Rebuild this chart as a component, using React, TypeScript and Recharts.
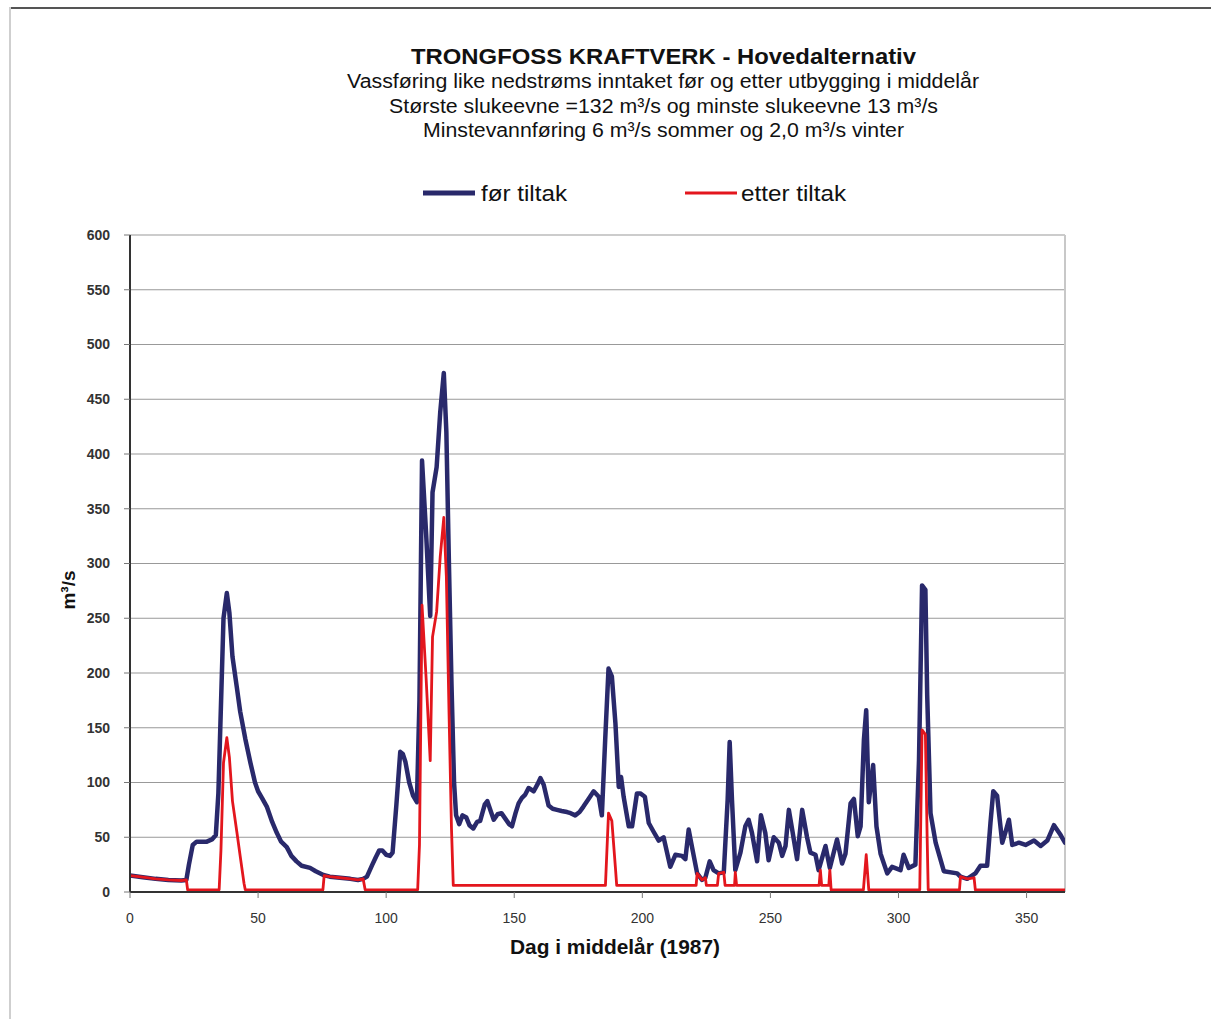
import { LineChart, Line, XAxis, YAxis, CartesianGrid, ReferenceLine } from "recharts";

// før tiltak (blå)
const forDays = [
  0, 5, 10, 15, 20, 22, 23, 24.5, 26, 30, 32, 33.5, 34.5, 35.5, 36.5, 37.8, 38.8, 40, 41.7, 43,
  45, 47, 48.8, 50, 51.5, 53.4, 55.5, 57.3, 59, 61.2, 63, 65, 67, 70.3, 72.5, 75.5, 78, 82, 86, 89,
  91, 92.5, 94.6, 96, 97.3, 98.5, 100, 101.5, 102.5, 104, 105.5, 106.5, 107.5, 109, 110.5, 112, 113, 114, 115.6, 117.2,
  118.1, 119.7, 121.1, 122.5, 123.5, 124.5, 125.5, 126.5, 127.3, 128.5, 129.8, 131.3, 132.5, 134, 135.5, 136.7, 138.5, 139.5, 140.8, 142,
  143.5, 145, 146.5, 148, 149.1, 150.5, 151.7, 153, 154.3, 155.6, 157.6, 159, 160.2, 161.5, 162.5, 163.4, 165, 166.7, 168.5, 170.6,
  172, 173.8, 175.5, 177, 179, 181, 183, 184.2, 185.5, 186.8, 188.1, 189.5, 190.8, 191.7, 192.7, 194.7, 196, 197.9, 199.2, 201,
  202.5, 204.4, 206.4, 208.3, 210.9, 212.9, 215.5, 216.8, 218.1, 219.4, 221.4, 223.3, 224.6, 226.3, 227.8, 229.8, 231.8, 233.3, 234.1, 235,
  236.3, 238.3, 240.2, 241.5, 242.8, 244.8, 246.3, 248, 249.3, 251.3, 253.3, 254.6, 255.9, 257.2, 258.5, 260.4, 262.4, 264.3, 265.6, 267.6,
  268.8, 271.5, 273.2, 276, 278, 279.3, 281.3, 282.6, 284.1, 285.2, 286.5, 287.4, 288.4, 290.1, 291.4, 293, 295.6, 297.5, 300.8, 302,
  304, 306.6, 308, 309.2, 310.5, 311.2, 312.5, 314.5, 317.7, 322.9, 324.2, 326.8, 330, 332, 334.6, 335.9, 337, 338.5, 340.5, 341.8,
  343.1, 344.4, 347, 349.6, 352.9, 355.5, 358.1, 360.7, 363.3, 365,
];
const forFlow = [
  15, 13.5, 12, 11, 10.5, 11, 25, 43, 46, 46, 48, 52, 90, 170, 250, 273, 255, 215, 187, 165,
  140, 118, 100, 92, 86, 78, 64, 54, 46, 41, 33, 28, 24, 22, 19, 15.5, 14, 13, 12, 11,
  12, 14, 25, 32, 38, 38, 34, 33, 36, 80, 128, 126, 119, 100, 88, 82, 175, 394, 327, 252,
  365, 388, 438, 474, 420, 300, 190, 100, 70, 62, 70, 68, 61, 58, 64, 65, 80, 83, 74, 66,
  71, 72, 67, 62, 60, 72, 81, 86, 89, 95, 92, 98, 104, 98, 88, 79, 76, 75, 74, 73,
  72, 70, 73, 78, 85, 92, 87, 70, 139, 204, 197, 154, 96, 105, 87, 60, 60, 90, 90, 87,
  63, 55, 47, 50, 23, 34, 33, 30, 57, 41, 17, 11, 13, 28, 20, 17, 18, 84, 137, 84,
  20, 36, 60, 66, 54, 28, 70, 54, 29, 50, 45, 33, 42, 75, 57, 30, 75, 50, 36, 34,
  20, 42, 22, 48, 26, 35, 81, 85, 51, 60, 139, 166, 82, 116, 60, 35, 17, 23, 20, 34,
  22, 25, 120, 280, 276, 180, 72, 45, 19, 17, 14, 12, 17, 24, 24, 63, 92, 88, 45, 55,
  66, 43, 45, 43, 47, 42, 47, 61, 52, 45,
];

// etter tiltak (rød)
const etterDays = [
  0, 5, 10, 15, 20, 22, 22.5, 34.8, 35.5, 36.5, 37.8, 38.8, 40, 41.7, 43, 44.5, 45, 75.3, 75.8, 78,
  82, 86, 89, 91, 91.8, 112.3, 113, 114, 115.6, 117.2, 118.1, 119.7, 121.1, 122.5, 123.5, 124.5, 125.5, 126.2, 185.6, 186.8,
  188.1, 189.5, 190, 221, 221.4, 223.3, 224.6, 225, 229.3, 229.8, 231.8, 232.3, 236, 236.3, 236.8, 269, 269.5, 270, 272.8, 273.2,
  273.7, 286.3, 287.4, 288.4, 308.3, 309.2, 310.5, 311.2, 311.6, 323.8, 324.2, 326.8, 329.5, 330, 365,
];
const etterFlow = [
  15, 13.5, 12, 11, 10.5, 11, 2, 2, 38, 118, 141, 123, 83, 55, 33, 8, 2, 2, 15, 14,
  13, 12, 11, 12, 2, 2, 43, 262, 195, 120, 233, 256, 306, 342, 288, 168, 58, 6, 6, 72,
  65, 22, 6, 6, 17, 11, 13, 6, 6, 17, 18, 6, 6, 18, 6, 6, 20, 6, 6, 20,
  2, 2, 34, 2, 2, 148, 144, 48, 2, 2, 14, 12, 13, 2, 2,
];

const xTicks = [0, 50, 100, 150, 200, 250, 300, 350];
const yTicks = [0, 50, 100, 150, 200, 250, 300, 350, 400, 450, 500, 550, 600];

const forData = forDays.map((d, i) => ({ dag: d, q: forFlow[i] }));
const etterData = etterDays.map((d, i) => ({ dag: d, q: etterFlow[i] }));

const BLUE = "#29296b";
const RED = "#e3161d";
const FONT = "'Liberation Sans', Arial, sans-serif";

export default function App() {
  return (
    <div style={{ position: "absolute", left: 0, top: 0, width: 1211, height: 1019, background: "#fff", fontFamily: FONT }}>
      {/* page frame */}
      <div style={{ position: "absolute", left: 9, top: 7, right: 0, height: 2, background: "#555" }} />
      <div style={{ position: "absolute", left: 9, top: 7, bottom: 0, width: 2, background: "#cfcfcf" }} />

      <div style={{ position: "absolute", left: 0, top: 0 }}>
        <LineChart width={1211} height={1019} margin={{ top: 235, right: 146, bottom: 97, left: 70 }} style={{ fontFamily: FONT }}>
          <CartesianGrid horizontal vertical={false} stroke="#999" strokeWidth={1} />
          <XAxis
            type="number"
            dataKey="dag"
            domain={[0, 365]}
            ticks={xTicks}
            allowDataOverflow
            height={30}
            axisLine={{ stroke: "#333", strokeWidth: 2 }}
            tickLine={{ stroke: "#777" }}
            tickSize={6}
            tickMargin={15}
            tick={{ fontSize: 14, fill: "#333" }}
          />
          <YAxis
            type="number"
            domain={[0, 600]}
            ticks={yTicks}
            width={60}
            axisLine={{ stroke: "#333", strokeWidth: 2 }}
            tickLine={{ stroke: "#777" }}
            tickSize={6}
            tickMargin={14}
            tick={{ fontSize: 14, fill: "#333", fontWeight: "bold" }}
          />
          <ReferenceLine x={365} stroke="#c8c8c8" strokeWidth={2} />
          <Line data={forData} dataKey="q" name="før tiltak" type="linear" stroke={BLUE} strokeWidth={4.5} strokeLinejoin="round" strokeLinecap="round" dot={false} isAnimationActive={false} />
          <Line data={etterData} dataKey="q" name="etter tiltak" type="linear" stroke={RED} strokeWidth={2.8} strokeLinejoin="round" dot={false} isAnimationActive={false} />
        </LineChart>
      </div>

      {/* titles, legend, axis titles */}
      <svg width={1211} height={1019} style={{ position: "absolute", left: 0, top: 0, pointerEvents: "none" }} fontFamily={FONT}>
        <text x={663.5} y={56} textAnchor="middle" dominantBaseline="central" fontSize={22} fontWeight="bold" fill="#111" textLength={505} lengthAdjust="spacingAndGlyphs">
          TRONGFOSS KRAFTVERK - Hovedalternativ
        </text>
        <text x={663} y={81} textAnchor="middle" dominantBaseline="central" fontSize={20} fill="#111" textLength={632} lengthAdjust="spacingAndGlyphs">
          Vassføring like nedstrøms inntaket før og etter utbygging i middelår
        </text>
        <text x={663.5} y={106} textAnchor="middle" dominantBaseline="central" fontSize={20} fill="#111" textLength={549} lengthAdjust="spacingAndGlyphs">
          Største slukeevne =132 m³/s og minste slukeevne 13 m³/s
        </text>
        <text x={663.5} y={130} textAnchor="middle" dominantBaseline="central" fontSize={20} fill="#111" textLength={481} lengthAdjust="spacingAndGlyphs">
          Minstevannføring 6 m³/s sommer og 2,0 m³/s vinter
        </text>

        <line x1={423} y1={193} x2={475} y2={193} stroke={BLUE} strokeWidth={5} />
        <text x={481} y={193} dominantBaseline="central" fontSize={22} fill="#111" textLength={86} lengthAdjust="spacingAndGlyphs">
          før tiltak
        </text>
        <line x1={685} y1={193} x2={737} y2={193} stroke={RED} strokeWidth={3} />
        <text x={741} y={193} dominantBaseline="central" fontSize={22} fill="#111" textLength={105} lengthAdjust="spacingAndGlyphs">
          etter tiltak
        </text>

        <text x={68} y={590} textAnchor="middle" dominantBaseline="central" fontSize={19} fontWeight="bold" fill="#111" transform="rotate(-90 68 590)">
          m³/s
        </text>
        <text x={615} y={947} textAnchor="middle" dominantBaseline="central" fontSize={20} fontWeight="bold" fill="#111" textLength={210} lengthAdjust="spacingAndGlyphs">
          Dag i middelår (1987)
        </text>
      </svg>
    </div>
  );
}
